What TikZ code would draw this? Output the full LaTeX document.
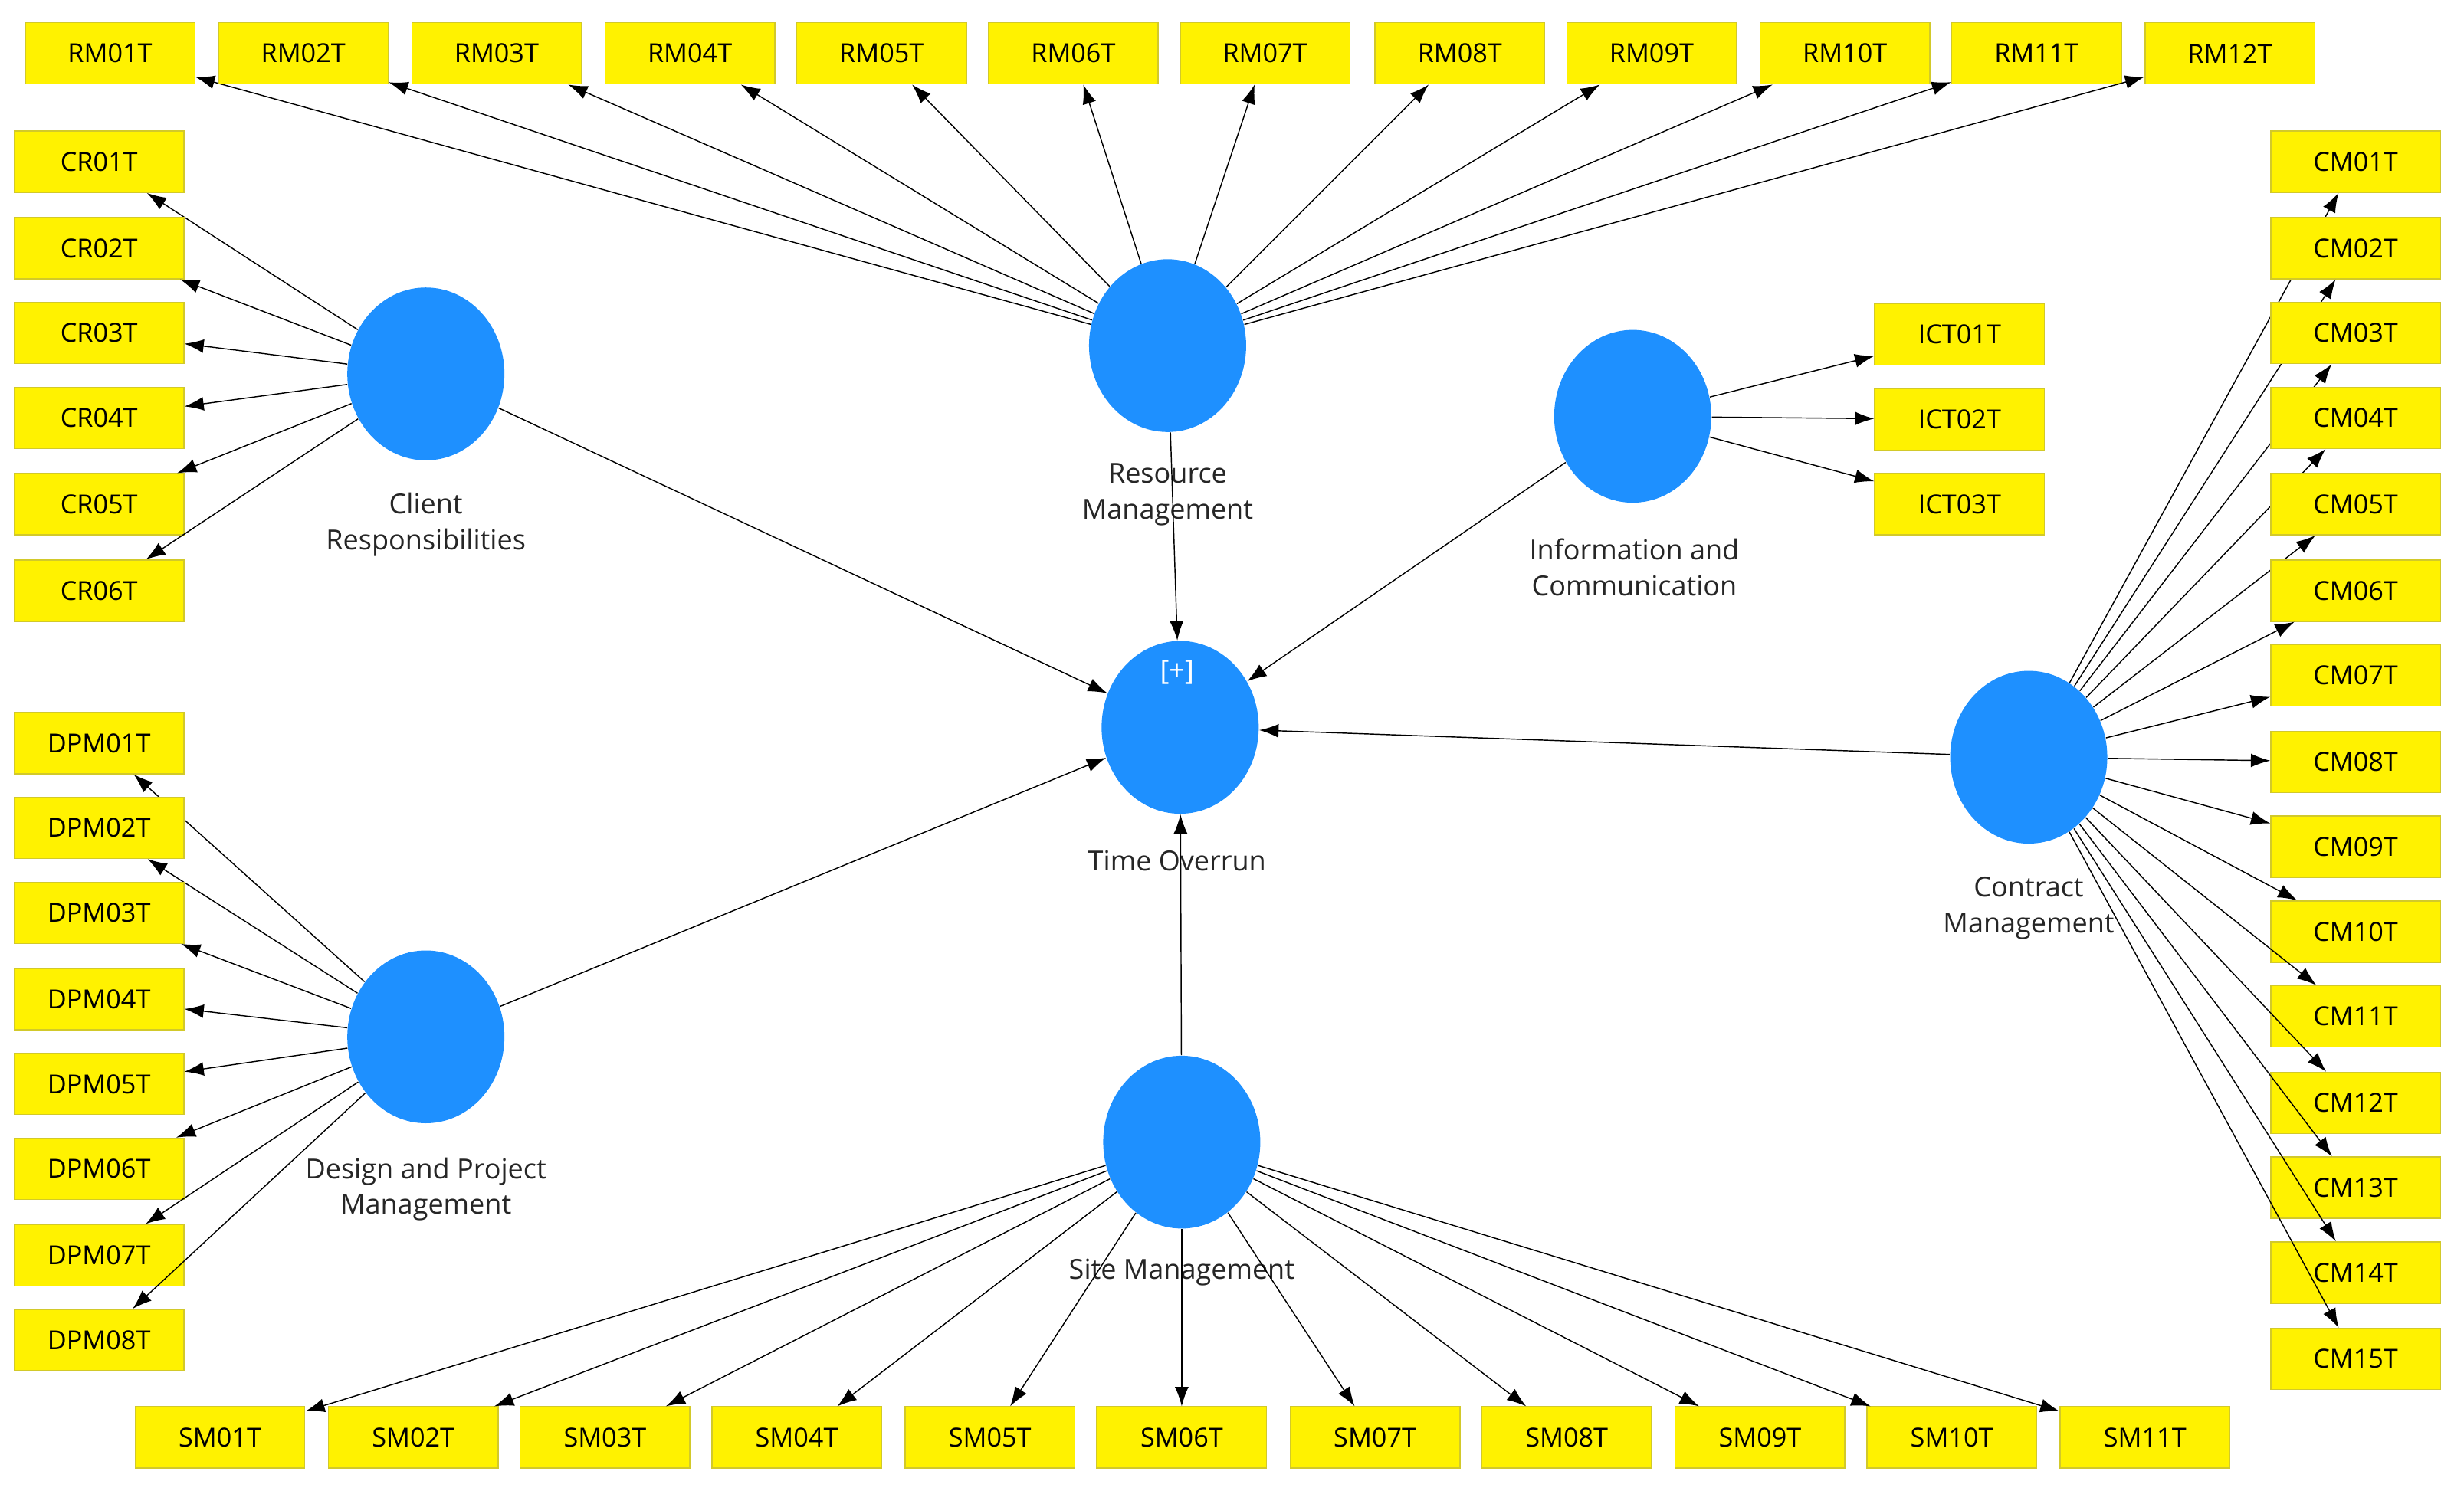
\documentclass[tikz,border=0pt]{standalone}
\usepackage{fontspec}
\setmainfont{Open Sans}
\usetikzlibrary{arrows.meta,shapes.geometric}
\definecolor{lvblue}{RGB}{30,144,255}
\begin{document}
\begin{tikzpicture}[x=0.02cm,y=-0.02cm,
	ind/.style={rectangle,fill=yellow,draw=yellow!80!black,minimum width=2.16cm,minimum height=0.78cm,inner sep=0pt,font=\fontsize{9.5}{12}\selectfont},
	lv/.style={ellipse,fill=lvblue,draw=none,minimum width=2cm,minimum height=2.2cm},
	lbl/.style={align=center,font=\fontsize{10}{13}\selectfont,text=black!85},
	ar/.style={-{Latex[length=7pt,width=5pt]},black,thin}]
	\useasboundingbox (0,0) rectangle (1568,949);
	% latent variables
	\node[lv] (cr) at (271,238) {};
	\node[lv] (rm) at (743,220) {};
	\node[lv] (ict) at (1039,265) {};
	\node[lv] (to) at (751,463) {};
	\node[lv] (cm) at (1291,482) {};
	\node[lv] (dpm) at (271,660) {};
	\node[lv] (sm) at (752,727) {};
	\node[text=white,font=\fontsize{10}{12}\selectfont] (plus) at (749,428) {[+]};
	% labels
	\node[lbl] (crl) at (271,334) {Client\\Responsibilities};
	\node[lbl] (rml) at (743,315) {Resource\\Management};
	\node[lbl] (ictl) at (1040,361) {Information and\\Communication};
	\node[lbl] (tol) at (749,548) {Time Overrun};
	\node[lbl] (cml) at (1291,578) {Contract\\Management};
	\node[lbl] (dpml) at (271,757) {Design and Project\\Management};
	\node[lbl] (sml) at (752,810) {Site Management};
	% indicators
	\foreach \i\x in {1/70,2/193,3/316,4/439,5/561,6/683,7/805,8/929,9/1051,10/1174,11/1296,12/1419}{
		\node[ind] (rm\i) at (\x,34) {RM\ifnum\i<10 0\fi\i T};
		\draw[ar] (rm) -- (rm\i);
	}
	\foreach \i\y in {1/103,2/158,3/212,4/266,5/321,6/376}{
		\node[ind] (cr\i) at (63,\y) {CR0\i T};
		\draw[ar] (cr) -- (cr\i);
	}
	\foreach \i\y in {1/473,2/527,3/581,4/636,5/690,6/744,7/799,8/853}{
		\node[ind] (dpm\i) at (63,\y) {DPM0\i T};
		\draw[ar] (dpm) -- (dpm\i);
	}
	\foreach \i\y in {1/213,2/267,3/321}{
		\node[ind] (ict\i) at (1247,\y) {ICT0\i T};
		\draw[ar] (ict) -- (ict\i);
	}
	\foreach \i\y in {1/103,2/158,3/212,4/266,5/321,6/376,7/430,8/485,9/539,10/593,11/647,12/702,13/756,14/810,15/865}{
		\node[ind] (cm\i) at (1499,\y) {CM\ifnum\i<10 0\fi\i T};
		\draw[ar] (cm) -- (cm\i);
	}
	\foreach \i\x in {1/140,2/263,3/385,4/507,5/630,6/752,7/875,8/997,9/1120,10/1242,11/1365}{
		\node[ind] (sm\i) at (\x,915) {SM\ifnum\i<10 0\fi\i T};
		\draw[ar] (sm) -- (sm\i);
	}
	% structural paths
	\foreach \s in {cr,rm,ict,cm,dpm,sm}{
		\draw[ar] (\s) -- (to);
	}
\end{tikzpicture}
\end{document}
